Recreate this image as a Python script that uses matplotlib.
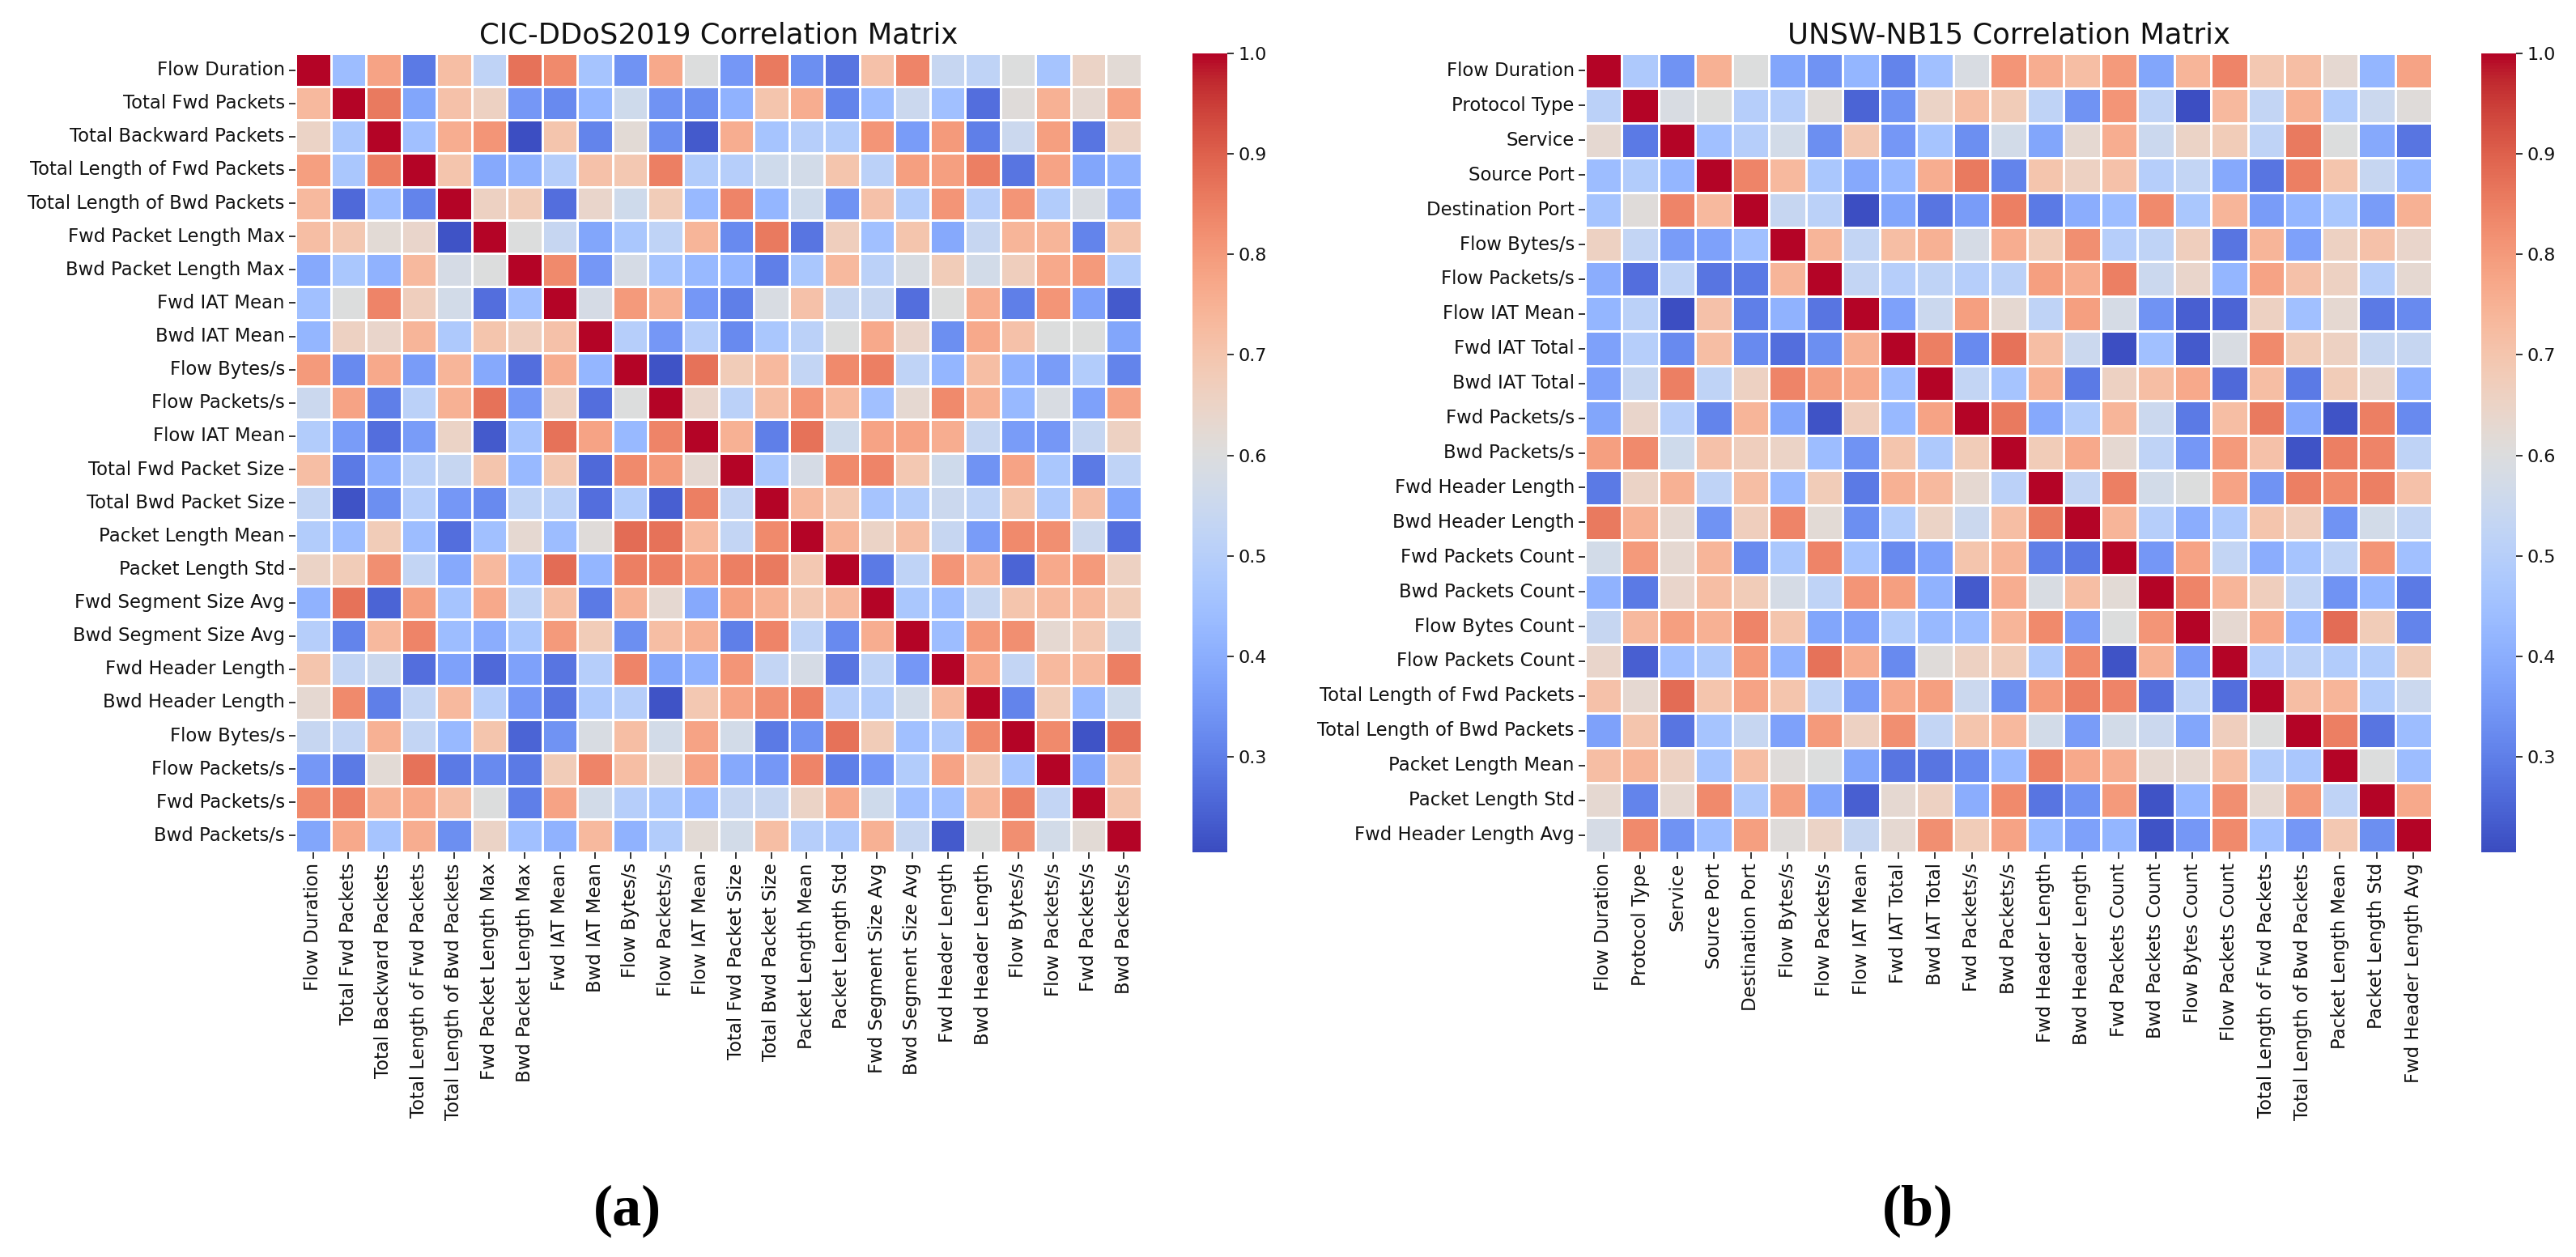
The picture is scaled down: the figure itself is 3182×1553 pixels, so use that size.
import matplotlib
matplotlib.use('Agg')
import matplotlib.pyplot as plt
import seaborn as sns

W, H = 3182, 1553

# Nombres de las variables
labels_cic = ['Flow Duration', 'Total Fwd Packets', 'Total Backward Packets', 'Total Length of Fwd Packets',
              'Total Length of Bwd Packets', 'Fwd Packet Length Max', 'Bwd Packet Length Max', 'Fwd IAT Mean',
              'Bwd IAT Mean', 'Flow Bytes/s', 'Flow Packets/s', 'Flow IAT Mean', 'Total Fwd Packet Size',
              'Total Bwd Packet Size', 'Packet Length Mean', 'Packet Length Std', 'Fwd Segment Size Avg',
              'Bwd Segment Size Avg', 'Fwd Header Length', 'Bwd Header Length', 'Flow Bytes/s', 'Flow Packets/s',
              'Fwd Packets/s', 'Bwd Packets/s']

labels_unsw = ['Flow Duration', 'Protocol Type', 'Service', 'Source Port', 'Destination Port', 'Flow Bytes/s',
               'Flow Packets/s', 'Flow IAT Mean', 'Fwd IAT Total', 'Bwd IAT Total', 'Fwd Packets/s', 'Bwd Packets/s',
               'Fwd Header Length', 'Bwd Header Length', 'Fwd Packets Count', 'Bwd Packets Count', 'Flow Bytes Count',
               'Flow Packets Count', 'Total Length of Fwd Packets', 'Total Length of Bwd Packets',
               'Packet Length Mean', 'Packet Length Std', 'Fwd Header Length Avg']

corr_cic = [
    [1, .44, .78, .29, .72, .52, .87, .83, .46, .34, .77, .60, .35, .86, .33, .28, .71, .84, .54, .52, .60, .46, .65, .62],
    [.73, 1, .86, .38, .71, .66, .35, .32, .42, .56, .34, .33, .41, .70, .76, .31, .44, .55, .45, .27, .61, .75, .63, .78],
    [.65, .47, 1, .45, .76, .81, .21, .70, .31, .62, .33, .23, .76, .46, .50, .49, .81, .36, .80, .30, .55, .79, .28, .65],
    [.79, .47, .85, 1, .70, .39, .41, .50, .71, .69, .85, .49, .50, .56, .57, .70, .51, .79, .79, .85, .28, .78, .38, .41],
    [.73, .26, .44, .31, 1, .66, .68, .27, .64, .56, .68, .43, .84, .42, .56, .34, .71, .49, .81, .50, .81, .49, .59, .40],
    [.72, .69, .62, .64, .22, 1, .60, .54, .38, .47, .52, .74, .32, .86, .28, .67, .45, .70, .39, .54, .74, .74, .31, .70],
    [.39, .47, .41, .73, .58, .60, 1, .83, .35, .58, .46, .43, .42, .30, .47, .73, .51, .59, .68, .57, .67, .77, .80, .49],
    [.45, .60, .84, .67, .57, .27, .45, 1, .58, .80, .75, .35, .30, .59, .71, .54, .54, .27, .60, .76, .30, .81, .37, .23],
    [.42, .66, .64, .74, .48, .70, .67, .71, 1, .50, .35, .50, .32, .47, .51, .60, .77, .64, .33, .77, .71, .60, .60, .38],
    [.80, .32, .77, .36, .74, .39, .27, .76, .42, 1, .22, .87, .68, .73, .53, .83, .85, .52, .42, .72, .41, .36, .49, .31],
    [.55, .78, .30, .51, .75, .87, .35, .66, .27, .60, 1, .64, .51, .72, .81, .73, .45, .63, .83, .75, .43, .59, .37, .78],
    [.49, .36, .27, .36, .65, .23, .46, .87, .78, .43, .84, 1, .75, .30, .87, .56, .78, .78, .76, .54, .36, .35, .54, .66],
    [.72, .29, .40, .51, .54, .70, .43, .69, .26, .83, .80, .63, 1, .47, .58, .83, .84, .69, .56, .34, .78, .47, .29, .52],
    [.53, .22, .33, .50, .35, .32, .52, .51, .27, .49, .24, .85, .53, 1, .73, .69, .46, .49, .55, .52, .70, .48, .72, .38],
    [.49, .44, .68, .44, .27, .45, .63, .44, .61, .88, .87, .73, .53, .83, 1, .74, .65, .72, .54, .36, .83, .82, .55, .27],
    [.65, .68, .82, .53, .39, .73, .45, .88, .42, .85, .85, .80, .85, .86, .69, 1, .29, .52, .81, .75, .25, .77, .80, .66],
    [.41, .87, .25, .79, .46, .77, .52, .72, .29, .75, .63, .39, .79, .75, .69, .73, 1, .47, .44, .54, .70, .73, .73, .68],
    [.50, .31, .73, .84, .44, .40, .47, .80, .68, .33, .72, .75, .30, .84, .52, .32, .76, 1, .44, .80, .82, .63, .69, .56],
    [.70, .53, .55, .27, .37, .26, .37, .28, .50, .84, .38, .41, .81, .53, .58, .28, .52, .35, 1, .77, .53, .73, .73, .85],
    [.63, .83, .30, .53, .73, .50, .35, .28, .48, .50, .22, .69, .78, .82, .85, .50, .49, .57, .73, 1, .31, .68, .43, .56],
    [.54, .53, .75, .53, .43, .70, .25, .34, .59, .72, .57, .78, .57, .29, .34, .87, .68, .45, .48, .83, 1, .83, .22, .87],
    [.35, .29, .62, .87, .29, .32, .29, .68, .84, .72, .63, .78, .39, .35, .84, .30, .35, .49, .78, .68, .46, 1, .38, .70],
    [.83, .85, .75, .77, .72, .60, .30, .78, .57, .50, .47, .43, .54, .54, .65, .77, .56, .45, .45, .74, .85, .53, 1, .70],
    [.38, .77, .46, .76, .33, .65, .45, .41, .73, .41, .49, .62, .57, .72, .50, .48, .75, .54, .23, .60, .82, .57, .62, 1],
]

corr_unsw = [
    [1, .48, .34, .75, .60, .38, .34, .42, .31, .45, .59, .81, .76, .72, .80, .38, .74, .84, .69, .72, .63, .42, .78],
    [.51, 1, .59, .60, .50, .50, .61, .25, .34, .65, .72, .68, .52, .34, .81, .52, .21, .73, .53, .75, .49, .55, .61],
    [.63, .29, 1, .45, .50, .57, .33, .69, .35, .46, .33, .57, .38, .63, .76, .55, .65, .68, .52, .86, .60, .39, .28],
    [.44, .49, .42, 1, .84, .73, .47, .39, .43, .76, .86, .31, .70, .66, .71, .50, .53, .39, .28, .85, .70, .54, .42],
    [.46, .61, .84, .73, 1, .54, .51, .21, .38, .28, .36, .85, .29, .40, .44, .83, .47, .74, .36, .42, .47, .36, .75],
    [.66, .53, .36, .37, .45, 1, .74, .53, .72, .75, .58, .76, .68, .82, .50, .52, .67, .28, .74, .37, .66, .71, .64],
    [.40, .27, .52, .28, .29, .74, 1, .53, .50, .52, .50, .51, .79, .76, .85, .55, .64, .42, .78, .71, .66, .50, .63],
    [.42, .51, .21, .71, .30, .41, .28, 1, .37, .55, .79, .63, .52, .79, .58, .34, .24, .25, .66, .45, .63, .29, .32],
    [.37, .50, .32, .72, .32, .27, .33, .75, 1, .85, .32, .87, .72, .55, .21, .45, .23, .59, .83, .68, .66, .54, .54],
    [.37, .54, .85, .52, .66, .84, .79, .77, .44, 1, .53, .46, .75, .29, .66, .72, .77, .26, .72, .29, .68, .64, .41],
    [.38, .64, .50, .31, .74, .38, .22, .67, .43, .78, 1, .86, .39, .49, .74, .55, .29, .72, .86, .39, .22, .85, .32],
    [.79, .83, .56, .71, .67, .65, .44, .34, .70, .48, .68, 1, .68, .77, .63, .52, .35, .80, .71, .22, .85, .84, .52],
    [.29, .65, .75, .52, .72, .43, .68, .29, .75, .73, .63, .51, 1, .53, .85, .57, .60, .78, .34, .85, .83, .85, .71],
    [.86, .75, .63, .34, .67, .84, .62, .33, .49, .65, .55, .72, .86, 1, .74, .50, .40, .48, .70, .67, .34, .57, .53],
    [.57, .80, .63, .74, .32, .47, .84, .46, .32, .37, .70, .74, .30, .29, 1, .35, .78, .53, .40, .46, .52, .81, .45],
    [.41, .29, .64, .72, .68, .58, .52, .81, .79, .41, .23, .76, .59, .72, .62, 1, .84, .74, .67, .53, .34, .42, .29],
    [.54, .73, .79, .75, .84, .70, .38, .37, .49, .43, .44, .74, .83, .36, .60, .81, 1, .63, .77, .43, .88, .68, .31],
    [.64, .24, .45, .48, .80, .41, .87, .76, .32, .61, .66, .68, .48, .83, .22, .75, .36, 1, .50, .51, .49, .49, .68],
    [.71, .63, .88, .70, .78, .70, .52, .36, .77, .79, .55, .33, .80, .85, .84, .27, .52, .27, 1, .72, .74, .49, .55],
    [.37, .70, .28, .46, .54, .37, .80, .66, .82, .53, .70, .73, .57, .36, .57, .55, .38, .67, .60, 1, .85, .28, .44],
    [.72, .74, .66, .46, .72, .61, .60, .38, .28, .28, .32, .43, .85, .77, .76, .63, .63, .72, .49, .47, 1, .60, .44],
    [.63, .31, .63, .83, .48, .79, .38, .24, .63, .66, .40, .83, .28, .34, .80, .22, .42, .82, .63, .80, .52, 1, .77],
    [.58, .83, .34, .44, .79, .61, .65, .54, .63, .82, .68, .78, .43, .37, .42, .22, .35, .83, .45, .35, .69, .33, 1],
]

titles = ['CIC-DDoS2019 Correlation Matrix', 'UNSW-NB15 Correlation Matrix']
subcaptions = ['(a)', '(b)']


def box(x0, y0, x1, y1):
    # pasar de pixeles de la imagen a fraccion de figura
    return [x0 / W, 1 - y1 / H, (x1 - x0) / W, (y1 - y0) / H]


fig = plt.figure(figsize=(W / 100, H / 100), dpi=100)

paneles = [
    (corr_cic, labels_cic, (365, 66, 1410, 1053), (1473, 66, 1516, 1053), 775),
    (corr_unsw, labels_unsw, (1958, 66, 3004, 1053), (3065, 66, 3108, 1053), 2369),
]

for i, (corr, labels, pos, pos_cb, x_sub) in enumerate(paneles):
    ax = fig.add_axes(box(*pos))
    cax = fig.add_axes(box(*pos_cb))
    sns.heatmap(corr, ax=ax, cbar_ax=cax, cmap='coolwarm', vmin=0.205, vmax=1.0, linewidths=1.0, linecolor='white',
                xticklabels=labels, yticklabels=labels, square=False)
    ax.tick_params(axis='both', labelsize=16.4, length=6, width=1.3, color='#222222', labelcolor='#111111')
    ax.tick_params(axis='x', labelrotation=90)
    ax.tick_params(axis='y', labelrotation=0)
    cax.tick_params(labelsize=16, length=6, width=1.3, color='#222222', labelcolor='#111111')
    ax.set_title(titles[i], fontsize=25.5, pad=9, color='#111111')
    fig.text(x_sub / W, 1 - 1496 / H, subcaptions[i], fontsize=52, family='Liberation Serif', fontweight='bold',
             ha='center', va='center', color='black')

fig.savefig('out.png', dpi=100)
